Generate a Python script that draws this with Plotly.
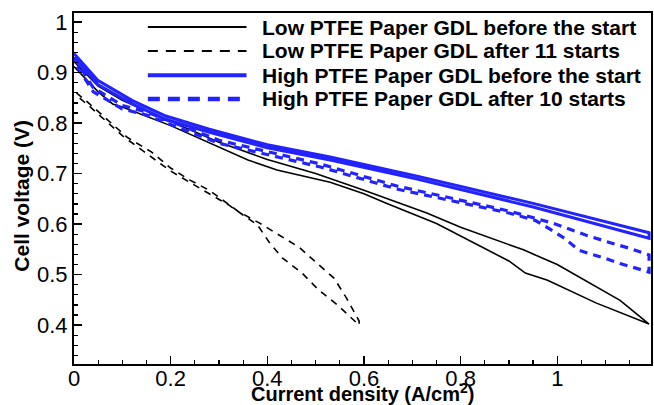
import plotly.graph_objects as go

# ---------------- data ----------------
# Low PTFE Paper GDL before the start (solid black, hysteresis loop)
low_before_up_x = [0.0, 0.05, 0.10, 0.20, 0.30, 0.40, 0.50, 0.60, 0.73, 0.80, 0.93, 1.00, 1.13, 1.19]
low_before_up_y = [0.922, 0.873, 0.845, 0.803, 0.762, 0.728, 0.700, 0.667, 0.622, 0.594, 0.549, 0.520, 0.449, 0.402]
low_before_dn_x = [1.19, 1.08, 0.98, 0.934, 0.90, 0.80, 0.75, 0.645, 0.60, 0.53, 0.42, 0.36, 0.30, 0.20, 0.10, 0.08, 0.05, 0.0]
low_before_dn_y = [0.402, 0.444, 0.489, 0.503, 0.527, 0.576, 0.601, 0.642, 0.660, 0.683, 0.707, 0.727, 0.752, 0.795, 0.832, 0.838, 0.862, 0.912]

# Low PTFE Paper GDL after 11 starts (dashed black)
low_after_up_x = [0.005, 0.03, 0.11, 0.16, 0.20, 0.24, 0.28, 0.34, 0.384, 0.425, 0.466, 0.50, 0.538, 0.563, 0.59]
low_after_up_y = [0.860, 0.840, 0.772, 0.743, 0.711, 0.687, 0.667, 0.625, 0.602, 0.578, 0.554, 0.525, 0.493, 0.455, 0.408]
low_after_dn_x = [0.59, 0.545, 0.507, 0.472, 0.431, 0.404, 0.38, 0.32, 0.28, 0.20, 0.15, 0.10, 0.03, 0.005]
low_after_dn_y = [0.400, 0.440, 0.469, 0.503, 0.533, 0.564, 0.598, 0.638, 0.660, 0.705, 0.740, 0.775, 0.835, 0.855]

# High PTFE Paper GDL before the start (solid blue)
high_before_up_x = [0.0, 0.05, 0.12, 0.19, 0.28, 0.40, 0.53, 0.71, 0.95, 1.19]
high_before_up_y = [0.938, 0.884, 0.845, 0.814, 0.788, 0.757, 0.733, 0.695, 0.641, 0.583]
high_before_dn_x = [1.19, 0.95, 0.71, 0.53, 0.40, 0.28, 0.19, 0.12, 0.05, 0.0]
high_before_dn_y = [0.572, 0.634, 0.689, 0.727, 0.751, 0.782, 0.807, 0.838, 0.876, 0.930]

# High PTFE Paper GDL after 10 starts (dashed blue)
high_after_up_x = [0.0, 0.04, 0.10, 0.15, 0.30, 0.51, 0.67, 0.84, 0.90, 0.99, 1.06, 1.11, 1.15, 1.19]
high_after_up_y = [0.930, 0.870, 0.835, 0.822, 0.766, 0.719, 0.675, 0.638, 0.626, 0.602, 0.578, 0.563, 0.552, 0.539]
high_after_dn_x = [1.19, 1.13, 1.10, 1.045, 1.015, 0.985, 0.955, 0.90, 0.84, 0.67, 0.51, 0.30, 0.15, 0.10, 0.04, 0.0]
high_after_dn_y = [0.505, 0.522, 0.532, 0.548, 0.572, 0.590, 0.607, 0.622, 0.634, 0.669, 0.713, 0.760, 0.816, 0.828, 0.862, 0.922]

series_names = [
    "Low PTFE Paper GDL before the start",
    "Low PTFE Paper GDL after 11 starts",
    "High PTFE Paper GDL before the start",
    "High PTFE Paper GDL after 10 starts",
]

x_tick_vals = [0, 0.2, 0.4, 0.6, 0.8, 1]
x_tick_text = ["0", "0.2", "0.4", "0.6", "0.8", "1"]
y_tick_vals = [0.4, 0.5, 0.6, 0.7, 0.8, 0.9, 1.0]
y_tick_text = ["0.4", "0.5", "0.6", "0.7", "0.8", "0.9", "1"]

# ---------------- styles ----------------
BLUE = "#2323ff"
styles = [
    dict(color="black", width=1.6, dash="solid"),
    dict(color="black", width=1.6, dash="7px,6px"),
    dict(color=BLUE, width=3, dash="solid"),
    dict(color=BLUE, width=3.2, dash="8px,6px"),
]
legend_styles = [
    dict(color="black", width=2, dash="solid"),
    dict(color="black", width=2, dash="10px,8px"),
    dict(color=BLUE, width=4, dash="solid"),
    dict(color=BLUE, width=4.5, dash="12px,8px"),
]

loops = [
    (low_before_up_x + low_before_dn_x, low_before_up_y + low_before_dn_y),
    (low_after_up_x + low_after_dn_x, low_after_up_y + low_after_dn_y),
    (high_before_up_x + high_before_dn_x, high_before_up_y + high_before_dn_y),
    (high_after_up_x + high_after_dn_x, high_after_up_y + high_after_dn_y),
]

fig = go.Figure()
for (xs, ys), st, name in zip(loops, styles, series_names):
    fig.add_trace(go.Scatter(x=xs, y=ys, mode="lines", name=name, line=st,
                             showlegend=False, hoverinfo="skip"))

# ---------------- custom legend (long sample lines as in reference) ----------------
leg_x0, leg_x1, leg_tx = 0.128, 0.299, 0.322
leg_rows = [0.960, 0.892, 0.823, 0.755]
shapes = []
annotations = []
for name, st, yy in zip(series_names, legend_styles, leg_rows):
    shapes.append(dict(type="line", xref="paper", yref="paper", x0=leg_x0, x1=leg_x1,
                       y0=yy, y1=yy, line=st))
    annotations.append(dict(xref="paper", yref="paper", x=leg_tx, y=yy, text="<b>" + name + "</b>",
                            showarrow=False, xanchor="left", yanchor="middle",
                            font=dict(family="Liberation Sans, Arial", size=21, color="black")))

# axis titles
annotations.append(dict(xref="paper", yref="paper", x=0.5, y=-0.081,
                        text="<b>Current density (A/cm<sup>2</sup>)</b>", showarrow=False,
                        xanchor="center", yanchor="middle",
                        font=dict(family="Liberation Sans, Arial", size=20, color="black")))
annotations.append(dict(xref="paper", yref="paper", x=-0.091, y=0.481,
                        text="<b>Cell voltage (V)</b>", showarrow=False, textangle=-90,
                        xanchor="center", yanchor="middle",
                        font=dict(family="Liberation Sans, Arial", size=21, color="black")))

fig.update_layout(
    width=654, height=405,
    margin=dict(l=74, r=1, t=13, b=41),
    paper_bgcolor="white", plot_bgcolor="white",
    showlegend=False,
    shapes=shapes, annotations=annotations,
    font=dict(family="Liberation Sans, Arial", color="black"),
)
fig.update_xaxes(
    range=[0, 1.194], showgrid=False, zeroline=False,
    showline=True, linecolor="black", linewidth=2, mirror=True,
    ticks="inside", ticklen=8, tickwidth=1.5, tickcolor="black",
    tickvals=x_tick_vals, ticktext=x_tick_text,
    tickfont=dict(size=22, color="black"),
    ticklabelstandoff=-6,
    minor=dict(ticks="inside", ticklen=4, tickwidth=1.2, tickcolor="black", dtick=0.05, tick0=0, showgrid=False),
)
fig.update_yaxes(
    range=[0.323, 1.018], showgrid=False, zeroline=False,
    showline=True, linecolor="black", linewidth=2, mirror=True,
    ticks="inside", ticklen=8, tickwidth=1.5, tickcolor="black",
    tickvals=y_tick_vals, ticktext=y_tick_text,
    tickfont=dict(size=22, color="black"),
    minor=dict(ticks="inside", ticklen=4, tickwidth=1.2, tickcolor="black", dtick=0.02, tick0=0, showgrid=False),
)

fig.write_html("out.html", config={"displayModeBar": False, "staticPlot": True},
               post_script="document.body.style.margin='0';document.body.style.overflow='hidden';")
